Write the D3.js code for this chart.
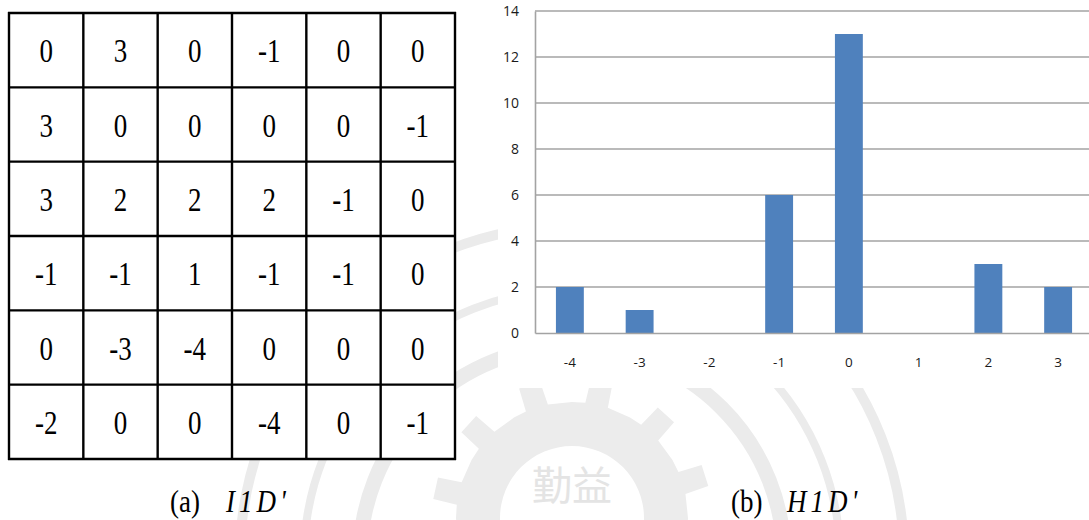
<!DOCTYPE html>
<html>
<head>
<meta charset="utf-8">
<script src="https://cdn.jsdelivr.net/npm/d3@7"></script>
<style>
  html, body { margin: 0; padding: 0; background: #fff; }
  svg { display: block; }
</style>
</head>
<body>
<svg id="fig" width="1089" height="520"></svg>
<script>
// (a) difference image I1D' as a 6x6 grid
const gridRows = [
  [ 0,  3,  0, -1,  0,  0],
  [ 3,  0,  0,  0,  0, -1],
  [ 3,  2,  2,  2, -1,  0],
  [-1, -1,  1, -1, -1,  0],
  [ 0, -3, -4,  0,  0,  0],
  [-2,  0,  0, -4,  0, -1]
];

// (b) histogram H1D' of the values above
const histBins   = ["-4", "-3", "-2", "-1", "0", "1", "2", "3"];
const histCounts = [2, 1, 0, 6, 13, 0, 3, 2];
const yTicks     = [0, 2, 4, 6, 8, 10, 12, 14];

const captionA = { label: "(a)", symbol: "I1D'" };
const captionB = { label: "(b)", symbol: "H1D'" };

const svg = d3.select("#fig");
const serif = "'Liberation Serif', 'Times New Roman', serif";

// ---- faint background emblem ----
const emblem = svg.append("g").attr("class", "emblem");
const ec = [572, 558];
[[212, 15], [268, 8], [332, 10]].forEach(([r, w]) => {
  emblem.append("circle").attr("cx", ec[0]).attr("cy", ec[1]).attr("r", r)
    .attr("fill", "none").attr("stroke", "#ebebeb").attr("stroke-width", w);
});
// gear: ring with teeth
const teeth = 12;
const gearPts = [];
for (let i = 0; i < teeth; i++) {
  const a0 = (i / teeth) * 2 * Math.PI;
  const step = 2 * Math.PI / teeth;
  const seq = [[0, 116], [0.22, 116], [0.26, 140], [0.56, 140], [0.60, 116], [1, 116]];
  seq.forEach(([f, r]) => {
    const a = a0 + f * step - Math.PI / 2;
    gearPts.push([ec[0] + r * Math.cos(a), ec[1] - 40 + r * Math.sin(a)]);
  });
}
const gearPath = d3.path();
gearPts.forEach((p, i) => i ? gearPath.lineTo(p[0], p[1]) : gearPath.moveTo(p[0], p[1]));
gearPath.closePath();
gearPath.moveTo(ec[0] + 72, ec[1] - 40);
gearPath.arc(ec[0], ec[1] - 40, 72, 0, 2 * Math.PI, true);
emblem.append("path").attr("d", gearPath.toString())
  .attr("fill", "#ececec").attr("fill-rule", "evenodd");
emblem.append("text").attr("x", ec[0]).attr("y", 500)
  .attr("text-anchor", "middle")
  .attr("font-family", "'Noto Sans CJK TC', 'Noto Sans CJK SC', sans-serif")
  .attr("font-size", 40).attr("fill", "#e4e4e4")
  .text("勤益");

// ---- (a) grid ----
const gx = d3.scaleBand().domain(d3.range(6)).range([9, 455]);
const gy = d3.scaleBand().domain(d3.range(6)).range([13, 459]);
const grid = svg.append("g").attr("class", "grid-table");
grid.append("rect")
  .attr("x", gx.range()[0]).attr("y", gy.range()[0])
  .attr("width", gx.range()[1] - gx.range()[0])
  .attr("height", gy.range()[1] - gy.range()[0])
  .attr("fill", "#fff");
gridRows.forEach((row, r) => {
  row.forEach((v, c) => {
    const cx = gx(c) + gx.bandwidth() / 2;
    const cy = gy(r) + gy.bandwidth() / 2 + 12;
    grid.append("text")
      .attr("transform", `translate(${cx},${cy}) scale(1,1.22)`)
      .attr("text-anchor", "middle")
      .attr("font-family", serif)
      .attr("font-size", 27)
      .attr("fill", "#000")
      .text(v);
  });
});
d3.range(7).forEach(i => {
  const xv = i < 6 ? gx(i) : gx.range()[1];
  const yv = i < 6 ? gy(i) : gy.range()[1];
  grid.append("line").attr("x1", xv).attr("x2", xv)
    .attr("y1", gy.range()[0] - 1).attr("y2", gy.range()[1] + 1)
    .attr("stroke", "#000").attr("stroke-width", 2.4);
  grid.append("line").attr("y1", yv).attr("y2", yv)
    .attr("x1", gx.range()[0] - 1).attr("x2", gx.range()[1] + 1)
    .attr("stroke", "#000").attr("stroke-width", 2.4);
});

// ---- (b) histogram ----
const chart = svg.append("g").attr("class", "histogram");
chart.append("rect").attr("x", 498).attr("y", 0)
  .attr("width", 591).attr("height", 388).attr("fill", "#fff");

const x0 = 535, step = 69.75;
const x = d3.scaleBand().domain(histBins).range([x0, x0 + histBins.length * step]).padding(0);
const y = d3.scaleLinear().domain([0, 14]).range([333, 11]);

const axisColor = "#a3a3a3";
const fontUI = "'Open Sans', 'Noto Sans', 'DejaVu Sans', sans-serif";

// horizontal gridlines
chart.append("g").selectAll("line").data(yTicks.filter(t => t > 0)).join("line")
  .attr("x1", x0).attr("x2", 1089)
  .attr("y1", d => y(d)).attr("y2", d => y(d))
  .attr("stroke", axisColor).attr("stroke-width", 1.6);

// bars
const barW = x.bandwidth() * 0.4;
chart.append("g").selectAll("rect").data(histBins.map((b, i) => ({ b, v: histCounts[i] })))
  .join("rect")
  .attr("x", d => x(d.b) + (x.bandwidth() - barW) / 2)
  .attr("y", d => y(d.v))
  .attr("width", barW)
  .attr("height", d => y(0) - y(d.v))
  .attr("fill", "#4f81bd");

// axes
const yAxis = chart.append("g").attr("transform", `translate(${x0},0)`)
  .call(d3.axisLeft(y).tickValues(yTicks).tickSize(0).tickPadding(16));
yAxis.select(".domain").attr("stroke", axisColor).attr("stroke-width", 1.6);
yAxis.selectAll("text").attr("font-family", fontUI).attr("font-size", 14)
  .attr("fill", "#1a1a1a");

const xAxis = chart.append("g").attr("transform", `translate(0,${y(0)})`)
  .call(d3.axisBottom(x).tickSize(0).tickPadding(24));
xAxis.select(".domain").attr("stroke", axisColor).attr("stroke-width", 1.6);
xAxis.selectAll("text").attr("font-family", fontUI).attr("font-size", 13.5)
  .attr("fill", "#1a1a1a");

// ---- captions ----
function caption(c, xLabel, xSym, spacing) {
  const t = svg.append("text")
    .attr("transform", "translate(0,512) scale(1,1.15)")
    .attr("font-family", serif)
    .attr("font-size", 27).attr("fill", "#000");
  t.append("tspan").attr("x", xLabel).text(c.label);
  t.append("tspan").attr("x", xSym).attr("font-style", "italic")
    .attr("letter-spacing", spacing).text(c.symbol);
}
caption(captionA, 170, 226, 4);
caption(captionB, 731, 787, 4);
</script>
</body>
</html>
